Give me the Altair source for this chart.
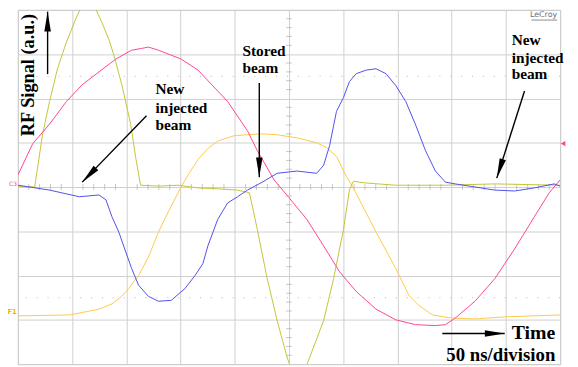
import math
import altair as alt
import pandas as pd

# ---------------- data: time in ns (50 ns/div), signal in vertical divisions ----------------
c2_t = [0, 15.5, 22.8, 29.2, 36.5, 44.7, 53.8, 59.3, 65.7, 72.1,
        77.6, 83.9, 88.5, 95.8, 104.0, 108.6, 113.1, 129.6, 147.8, 166.0,
        184.3, 202.6, 213.5, 220.8, 229.9, 239.1, 248.2, 254.6, 261.9, 269.2,
        281.9, 291.1, 300.2, 305.7, 309.3, 321.2, 348.5, 394.2, 439.8, 500]
c2_v = [0.02, 0.0, 1.2, 1.93, 2.67, 3.27, 3.82, 4.12, 4.2, 4.0,
        3.71, 3.33, 2.98, 2.31, 1.42, 0.67, 0.04, 0.02, 0.04, -0.02,
        -0.04, -0.07, -0.13, -0.96, -2.07, -3.02, -3.84, -4.29, -4.29, -3.84,
        -3.02, -2.07, -0.96, -0.07, 0.13, 0.09, 0.04, 0.04, 0.07, 0.04]

c3_t = [0, 13.7, 29.2, 44.7, 59.3, 74.8, 90.3, 104.9, 114.1, 120.4,
        129.6, 150.5, 166.1, 193.4, 211.7, 220.8, 236.3, 250.0, 266.4, 281.9,
        296.5, 312.0, 330.3, 348.5, 366.8, 385.0, 394.2, 403.3, 421.5, 439.8,
        458.0, 476.3, 490.0, 500]
c3_v = [0.27, 0.98, 1.42, 1.93, 2.31, 2.6, 2.89, 3.09, 3.13, 3.16,
        3.09, 2.89, 2.64, 1.93, 1.27, 0.82, 0.16, -0.24, -0.73, -1.33,
        -1.91, -2.36, -2.76, -3.0, -3.11, -3.13, -3.11, -2.96, -2.58, -2.07,
        -1.4, -0.67, -0.13, 0.16]

c1_t = [0, 29.2, 56.6, 74.8, 81.2, 86.7, 93.1, 99.5, 104.9, 111.3,
        120.4, 129.6, 141.4, 154.2, 163.3, 170.6, 175.2, 184.3, 193.4, 202.6,
        211.7, 225.4, 239.1, 257.3, 275.5, 281.9, 287.4, 293.8, 300.2, 305.7,
        312.0, 321.2, 330.3, 339.4, 348.5, 357.7, 366.8, 375.9, 385.0, 394.2,
        403.3, 421.5, 439.8, 458.0, 476.3, 494.5, 500]
c1_v = [0.04, -0.07, -0.22, -0.18, -0.29, -0.67, -1.02, -1.47, -1.84, -2.22,
        -2.47, -2.58, -2.56, -2.29, -2.0, -1.73, -1.33, -0.73, -0.36, -0.22,
        -0.07, 0.11, 0.31, 0.36, 0.31, 0.49, 0.93, 1.71, 2.02, 2.38,
        2.56, 2.64, 2.67, 2.56, 2.29, 1.93, 1.4, 0.82, 0.36, 0.11,
        0.07, 0.0, -0.07, -0.09, -0.02, 0.07, 0.02]

f1_t = [0, 47.4, 74.8, 86.7, 95.8, 102.2, 111.3, 120.4, 129.6, 138.7,
        150.5, 156.9, 166.1, 175.2, 184.3, 199.8, 223.5, 239.1, 257.3, 275.5,
        284.7, 293.8, 302.9, 309.3, 330.3, 348.5, 360.4, 369.5, 382.3, 400.5,
        421.5, 451.6, 500]
f1_v = [-2.91, -2.89, -2.76, -2.64, -2.47, -2.29, -2.0, -1.58, -1.02, -0.56,
        0.0, 0.27, 0.62, 0.87, 1.04, 1.16, 1.2, 1.18, 1.11, 1.0,
        0.89, 0.69, 0.24, -0.02, -1.02, -1.84, -2.44, -2.67, -2.89, -2.96,
        -2.98, -2.93, -2.89]

channels = ["F1", "C2", "C3", "C1"]
channel_colors = ["#ffc94a", "#c4c43a", "#ff4499", "#5050ee"]

# annotation text lines
label_text = ["New", "injected", "beam", "Stored", "beam", "New", "injected", "beam"]
label_t = [126.8, 126.8, 126.8, 207.1, 207.1, 455.3, 455.3, 455.3]
label_v = [2.21, 1.79, 1.39, 3.08, 2.68, 3.31, 2.91, 2.55]

# arrows: start -> tip
arrow_t1 = [27.4, 118.6, 222.6, 467.2, 391.4]
arrow_v1 = [2.55, 1.61, 2.35, 2.17, -3.31]
arrow_t2 = [27.4, 59.3, 222.6, 441.6, 448.9]
arrow_v2 = [3.96, 0.11, 0.22, 0.20, -3.31]

# ---------------- build tables ----------------
traces = pd.concat([
    pd.DataFrame({"t": f1_t, "v": f1_v, "ch": "F1"}),
    pd.DataFrame({"t": c2_t, "v": c2_v, "ch": "C2"}),
    pd.DataFrame({"t": c3_t, "v": c3_v, "ch": "C3"}),
    pd.DataFrame({"t": c1_t, "v": c1_v, "ch": "C1"}),
], ignore_index=True)

W, H = 548, 358
SX, SY = W / 500.0, H / 8.0
HEAD = 10.0  # half-length of arrow head in px

rows = []
for a, b, c, d in zip(arrow_t1, arrow_v1, arrow_t2, arrow_v2):
    dx = (c - a) * SX
    dy = -(d - b) * SY
    L = math.hypot(dx, dy)
    ux, uy = dx / L, dy / L
    ang = math.degrees(math.atan2(dx, -dy)) % 360
    rows.append({"t": a, "v": b, "t2": c, "v2": d,
                 "ht": c - ux * HEAD / SX, "hv": d + uy * HEAD / SY, "ang": ang})
arrows = pd.DataFrame(rows)

labels = pd.DataFrame({"text": label_text, "t": label_t, "v": label_v})

xgrid = list(range(0, 501, 50))
ygrid = list(range(-4, 5))
xminor = pd.DataFrame({"t": [i * 10 for i in range(51) if i % 5], "v": 0})
yminor = pd.DataFrame({"t": 250, "v": [round(-4 + i * 0.2, 2) for i in range(41) if i % 5]})


def X(field="t"):
    return alt.X(f"{field}:Q", scale=alt.Scale(domain=[0, 500], nice=False, zero=False),
                 axis=alt.Axis(values=xgrid, grid=True, gridColor="#cfcfcf", labels=False,
                               ticks=False, domain=False, title=None))


def Y(field="v"):
    return alt.Y(f"{field}:Q", scale=alt.Scale(domain=[-4, 4], nice=False, zero=False),
                 axis=alt.Axis(values=ygrid, grid=True, gridColor="#cfcfcf", labels=False,
                               ticks=False, domain=False, title=None))


serif = "Liberation Serif"

dots = alt.Chart(pd.DataFrame({"v": [2.5, -2.5]})).mark_rule(
    color="#b8b8b8", strokeDash=[1, 10], strokeWidth=1).encode(y=Y())

xt = alt.Chart(xminor).mark_tick(orient="vertical", size=6, thickness=1, color="#b0b0b0").encode(x=X(), y=Y())
yt = alt.Chart(yminor).mark_tick(orient="horizontal", size=6, thickness=1, color="#b0b0b0").encode(x=X(), y=Y())

lines = alt.Chart(traces).mark_line(clip=True, strokeWidth=1).encode(
    x=X(), y=Y(), detail="ch:N",
    color=alt.Color("ch:N", scale=alt.Scale(domain=channels, range=channel_colors), legend=None),
    order=alt.Order("t:Q"),
)

shafts = alt.Chart(arrows).mark_rule(color="black", strokeWidth=1.4).encode(
    x=X(), y=Y(), x2="t2:Q", y2="v2:Q")
heads = alt.Chart(arrows).mark_point(
    shape="M0,-1L0.33,1L-0.33,1Z", filled=True, color="black", opacity=1, size=400
).encode(x=X("ht"), y=Y("hv"), angle=alt.Angle("ang:Q", scale=None))

txt = alt.Chart(labels).mark_text(
    font=serif, fontWeight="bold", fontSize=15.5, align="left", baseline="middle", color="black"
).encode(x=X(), y=Y(), text="text:N")

ylab = alt.Chart(pd.DataFrame({"t": [9.1], "v": [2.53], "text": ["RF Signal (a.u.)"]})).mark_text(
    font=serif, fontWeight="bold", fontSize=18.5, angle=270, align="center", baseline="middle", color="black"
).encode(x=X(), y=Y(), text="text:N")

time_lab = alt.Chart(pd.DataFrame({"t": [455.3], "v": [-3.31], "text": ["Time"]})).mark_text(
    font=serif, fontWeight="bold", fontSize=20, align="left", baseline="middle", color="black"
).encode(x=X(), y=Y(), text="text:N")

div_lab = alt.Chart(pd.DataFrame({"t": [395.0], "v": [-3.80], "text": ["50 ns/division"]})).mark_text(
    font=serif, fontWeight="bold", fontSize=19, align="left", baseline="middle", color="black"
).encode(x=X(), y=Y(), text="text:N")

lecroy = alt.Chart(pd.DataFrame({"t": [497.3], "v": [3.89], "text": ["LeCroy"]})).mark_text(
    font="DejaVu Sans", fontSize=8, align="right", baseline="middle", color="#707070"
).encode(x=X(), y=Y(), text="text:N")
lecroy_ul = alt.Chart(pd.DataFrame({"t": [473.6], "t2": [497.3], "v": [3.77]})).mark_rule(
    color="#707070", strokeWidth=0.8).encode(x=X(), x2="t2:Q", y=Y())

c3_tag = alt.Chart(pd.DataFrame({"t": [-0.9], "v": [0.07], "text": ["C3"]})).mark_text(
    font="DejaVu Sans", fontSize=6, align="right", baseline="middle", color="#ff4499"
).encode(x=X(), y=Y(), text="text:N")
f1_tag = alt.Chart(pd.DataFrame({"t": [-0.9], "v": [-2.82], "text": ["F1"]})).mark_text(
    font="DejaVu Sans", fontSize=7, fontWeight="bold", align="right", baseline="middle", color="#f0b400"
).encode(x=X(), y=Y(), text="text:N")
trig = alt.Chart(pd.DataFrame({"t": [502.7], "v": [0.98]})).mark_point(
    shape="triangle-left", filled=True, color="#ff4499", opacity=1, size=30
).encode(x=X(), y=Y())

chart = alt.layer(
    dots, xt, yt, lines, shafts, heads, txt, ylab, time_lab, div_lab,
    lecroy, lecroy_ul, c3_tag, f1_tag, trig
).properties(
    width=W, height=H, autosize="none",
    padding={"left": 10, "top": 0, "right": 10, "bottom": 0},
    background="white",
).configure_view(stroke="#b4b4b4", strokeWidth=1)

chart.save("out.html", embed_options={"renderer": "svg", "actions": False})
